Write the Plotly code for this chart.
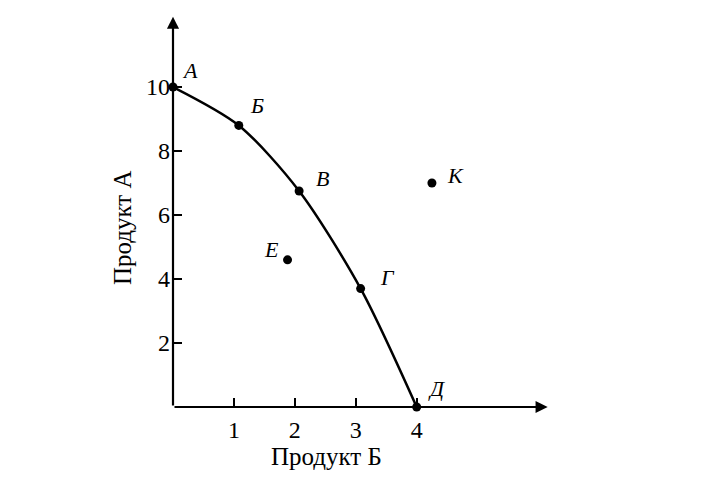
import plotly.graph_objects as go

# PPF points (Продукт Б, Продукт А)
curve_labels = ["А", "Б", "В", "Г", "Д"]
curve_x = [0, 1.08, 2.07, 3.08, 4.0]
curve_y = [10, 8.8, 6.75, 3.7, 0]

other_labels = ["Е", "К"]
other_x = [1.88, 4.25]
other_y = [4.6, 7.0]

x_ticks = [1, 2, 3, 4]
y_ticks = [2, 4, 6, 8, 10]

FONT = "Liberation Serif"

# page body has an 8px margin, so the figure is 700x464
W, H = 700, 464
L, R, T, B = 165, 139, 0, 65
pw, ph = W - L - R, H - T - B
OFF = 8


def paper(px, py):
    """page pixel -> paper coords"""
    return (px - OFF - L) / pw, (H - (py - OFF) - B) / ph


fig = go.Figure()
fig.add_trace(go.Scatter(x=curve_x, y=curve_y, mode="lines+markers",
                         line=dict(color="black", width=2.5, shape="spline", smoothing=0.8),
                         marker=dict(color="black", size=9), cliponaxis=False,
                         hoverinfo="skip", showlegend=False))
fig.add_trace(go.Scatter(x=other_x, y=other_y, mode="markers",
                         marker=dict(color="black", size=9), cliponaxis=False,
                         hoverinfo="skip", showlegend=False))

# point label offsets (px)
offsets = {"А": (17, 17), "Б": (18, 20), "В": (23, 13), "Г": (27, 11),
           "Д": (20, 19), "Е": (-16, 10), "К": (24, 8)}
for lab, x, y in list(zip(curve_labels, curve_x, curve_y)) + list(zip(other_labels, other_x, other_y)):
    dx, dy = offsets[lab]
    fig.add_annotation(x=x, y=y, text=f"<i>{lab}</i>", showarrow=False,
                       xshift=dx, yshift=dy, font=dict(family=FONT, size=22, color="black"))

# axis arrows
fig.add_annotation(x=6.15, y=0, ax=0, ay=0, xref="x", yref="y", axref="x", ayref="y",
                   text="", showarrow=True, arrowhead=2, arrowsize=1.1, arrowwidth=2.2,
                   arrowcolor="black")
fig.add_annotation(x=0, y=12.2, ax=0, ay=0, xref="x", yref="y", axref="x", ayref="y",
                   text="", showarrow=True, arrowhead=2, arrowsize=1.1, arrowwidth=2.2,
                   arrowcolor="black")

# axis titles
tx, ty = paper(326, 456)
fig.add_annotation(x=tx, y=ty, xref="paper", yref="paper", text="Продукт Б",
                   xanchor="center", yanchor="middle",
                   showarrow=False, font=dict(family=FONT, size=25, color="black"))
tx, ty = paper(122, 228)
fig.add_annotation(x=tx, y=ty, xref="paper", yref="paper", text="Продукт А",
                   xanchor="center", yanchor="middle",
                   textangle=-90, showarrow=False, font=dict(family=FONT, size=25, color="black"))

fig.update_layout(
    width=W, height=H,
    margin=dict(l=L, r=R, t=T, b=B),
    paper_bgcolor="white", plot_bgcolor="white",
    font=dict(family=FONT, size=23, color="black"),
    xaxis=dict(range=[0, 6.5], tickvals=x_ticks, ticktext=[str(v) for v in x_ticks],
               tickfont=dict(family=FONT, size=24, color="black"),
               ticks="inside", ticklen=9, tickwidth=1.5, tickcolor="black",
               showgrid=False, zeroline=False, showline=False, automargin=False,
               ticklabelstandoff=6),
    yaxis=dict(range=[0, 12.47], tickvals=y_ticks, ticktext=[str(v) for v in y_ticks],
               tickfont=dict(family=FONT, size=24, color="black"),
               ticks="inside", ticklen=9, tickwidth=1.5, tickcolor="black",
               showgrid=False, zeroline=False, showline=False, automargin=False,
               ticklabelstandoff=2),
)

fig.write_html("out.html")
